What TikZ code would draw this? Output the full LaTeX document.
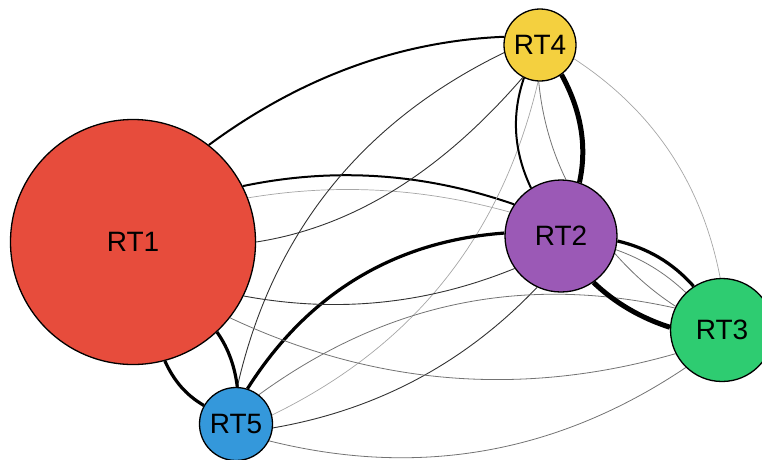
\documentclass[tikz,border=0pt]{standalone}
\usepackage{fontspec}
\setmainfont{Liberation Sans}
\usetikzlibrary{backgrounds}
\definecolor{cRTa}{HTML}{E74C3C}
\definecolor{cRTb}{HTML}{9B59B6}
\definecolor{cRTc}{HTML}{2ECC71}
\definecolor{cRTd}{HTML}{F4D03F}
\definecolor{cRTe}{HTML}{3498DB}
\begin{document}
\begin{tikzpicture}[x=1pt,y=-1pt,
  rt/.style={circle, draw=black, line width=1.3pt, inner sep=0pt, font=\fontsize{28}{28}\selectfont},
  lnthick/.style={line width=5pt, black},
  lnbold/.style={line width=3.2pt, black},
  lnmed/.style={line width=2pt, black},
  lndark/.style={line width=0.9pt, black!80},
  lngray/.style={line width=0.8pt, black!55},
  lnlight/.style={line width=0.7pt, black!35}]
\useasboundingbox (0,0) rectangle (762,459);
\clip (0,0) rectangle (762,459);
\node[rt, fill=cRTa, minimum size=245pt] (RT1) at (133,242) {RT1};
\node[rt, fill=cRTb, minimum size=112pt] (RT2) at (561,236) {RT2};
\node[rt, fill=cRTc, minimum size=103pt] (RT3) at (722,330) {RT3};
\node[rt, fill=cRTd, minimum size=72pt] (RT4) at (540,45) {RT4};
\node[rt, fill=cRTe, minimum size=73pt] (RT5) at (236,424) {RT5};
\begin{scope}[on background layer]
\draw[lnmed] (RT1.52) .. controls (301,77) and (400,41) .. (RT4.167);
\draw[lnmed] (RT1.27) .. controls (334,167) and (424,173) .. (RT2.146);
\draw[lnlight] (RT1.21) .. controls (337,183) and (423,188) .. (RT2.155);
\draw[lndark] (RT1.0) .. controls (353,227) and (441,172) .. (RT4.242);
\draw[lndark] (RT4.192) .. controls (361,122) and (272,234) .. (RT5.88);
\draw[lnlight] (RT4.267) .. controls (502,235) and (414,346) .. (RT5.14);
\draw[lnmed] (RT4.244) .. controls (511,116) and (514,152) .. (RT2.122);
\draw[lnthick] (RT4.306) .. controls (582,112) and (587,148) .. (RT2.71);
\draw[lngray] (RT4.268) .. controls (542,116) and (551,149) .. (RT2.85);
\draw[lnlight] (RT4.338) .. controls (654,111) and (702,184) .. (RT3.92);
\draw[lnbold] (RT1.285) .. controls (174,381) and (186,395) .. (RT5.150);
\draw[lnbold] (RT1.313) .. controls (229,349) and (235,368) .. (RT5.88);
\draw[lnbold] (RT5.72) .. controls (308,293) and (395,241) .. (RT2.177);
\draw[lndark] (RT1.334) .. controls (335,313) and (425,305) .. (RT2.215);
\draw[lndark] (RT5.354) .. controls (377,410) and (465,363) .. (RT2.245);
\draw[lngray] (RT5.333) .. controls (418,478) and (557,454) .. (RT3.226);
\draw[lngray] (RT1.322) .. controls (373,385) and (521,398) .. (RT3.207);
\draw[lngray] (RT5.52) .. controls (385,303) and (522,274) .. (RT3.155);
\draw[lnbold] (RT2.355) .. controls (647,248) and (672,262) .. (RT3.123);
\draw[lnthick] (RT2.305) .. controls (615,303) and (641,318) .. (RT3.177);
\draw[lngray] (RT2.346) .. controls (642,259) and (664,272) .. (RT3.134);
\draw[lngray] (RT2.342) .. controls (633,274) and (652,291) .. (RT3.153);
\end{scope}
\end{tikzpicture}
\end{document}
